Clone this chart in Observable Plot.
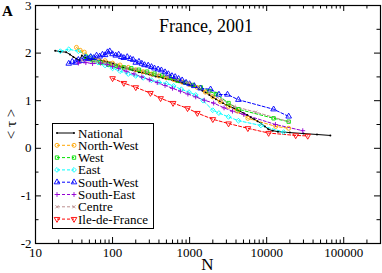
<!DOCTYPE html>
<html>
<head>
<meta charset="utf-8">
<script src="https://cdn.jsdelivr.net/npm/d3@7"></script>
<script src="https://cdn.jsdelivr.net/npm/@observablehq/plot@0.6"></script>
<style>
  html, body { margin: 0; padding: 0; background: #fff; }
  #chart { position: relative; width: 382px; height: 273px; }
</style>
</head>
<body>
<div id="chart"></div>
<script>
// ---- data: [N, <tau>] ----
const national = [[18,2.05],[21,2.03],[25,2.02],[28,1.97],[31,1.92],[34,1.88],[37,1.85],[40,1.95],[44,1.90],[48,1.88],[53,1.86],[58,1.87],[64,1.84],[70,1.85],[77,1.83],[85,1.82],[93,1.80],[102,1.78],[112,1.75],[124,1.72],[136,1.70],[150,1.68],[165,1.66],[182,1.64],[200,1.62],[220,1.60],[245,1.58],[270,1.57],[300,1.55],[330,1.53],[365,1.51],[400,1.50],[445,1.48],[490,1.46],[540,1.45],[600,1.43],[660,1.41],[730,1.39],[800,1.37],[890,1.35],[980,1.33],[1080,1.31],[1200,1.29],[1330,1.25],[1470,1.21],[1620,1.17],[1800,1.12],[2000,1.07],[2200,1.03],[2450,0.99],[2700,0.95],[3000,0.91],[3300,0.88],[3700,0.85],[4100,0.81],[4500,0.78],[5000,0.74],[5600,0.70],[6200,0.65],[6900,0.61],[7600,0.57],[8500,0.52],[9500,0.46],[10500,0.40],[12000,0.37],[14000,0.35],[20000,0.33],[30000,0.31],[45000,0.29],[67000,0.27]];
const northWest = [[34,2.12],[38,2.06],[43,2.02],[52,1.92],[65,1.86],[80,1.84],[100,1.79],[125,1.75],[160,1.70],[200,1.65],[250,1.61],[320,1.56],[400,1.52],[500,1.48],[630,1.44],[800,1.39],[1000,1.34],[1250,1.28],[1600,1.18],[2000,1.08],[2500,0.98],[3200,0.88],[4200,0.78],[5700,0.63],[13100,0.46],[19300,0.42]];
const west = [[45,1.92],[55,1.85],[70,1.80],[88,1.76],[110,1.73],[140,1.70],[175,1.68],[220,1.65],[280,1.61],[350,1.57],[440,1.53],[550,1.48],[700,1.42],[880,1.38],[1100,1.33],[1400,1.28],[1800,1.20],[2200,1.14],[3200,0.95],[4300,0.82],[12300,0.63],[19300,0.56]];
const east = [[21,2.04],[27,2.08],[36,2.04],[52,1.93],[65,1.80],[80,1.74],[100,1.68],[125,1.62],[160,1.56],[200,1.52],[250,1.48],[320,1.43],[400,1.39],[500,1.36],[620,1.31],[780,1.24],[980,1.18],[1200,1.12],[1500,1.00],[2000,0.80],[2400,0.74],[3200,0.66],[4300,0.58],[8400,0.48],[16600,0.34]];
const southWest = [[27,1.78],[30,1.82],[33,1.80],[36,1.86],[40,1.84],[44,1.90],[48,1.88],[52,1.92],[57,1.90],[62,1.95],[68,1.93],[74,1.97],[80,1.96],[86,2.02],[92,2.04],[100,1.98],[110,1.95],[120,1.97],[130,1.92],[140,1.90],[155,1.92],[170,1.88],[185,1.86],[200,1.80],[220,1.82],[240,1.78],[260,1.75],[290,1.74],[320,1.71],[350,1.68],[390,1.66],[430,1.64],[480,1.60],[530,1.56],[590,1.52],[650,1.50],[720,1.46],[800,1.43],[900,1.38],[1000,1.35],[1150,1.31],[1390,1.26],[1870,1.24],[2400,1.13],[3100,1.13],[4300,1.02],[12300,0.82],[19300,0.67]];
const southEast = [[36,1.79],[45,1.80],[55,1.78],[70,1.79],[85,1.76],[100,1.72],[120,1.68],[150,1.62],[190,1.56],[240,1.50],[300,1.44],[380,1.38],[480,1.32],[600,1.26],[760,1.20],[950,1.14],[1200,1.08],[1550,1.01],[2050,0.95],[2800,0.85],[3600,0.78],[5050,0.71],[13000,0.50],[29400,0.37]];
const centre = [[40,1.85],[60,1.82],[80,1.80],[110,1.76],[150,1.70],[200,1.66],[280,1.60],[380,1.55],[520,1.50],[700,1.44],[950,1.38],[1300,1.28],[1800,1.16],[2600,1.02],[3800,0.88],[7200,0.76],[19300,0.56]];
const ileDeFrance = [[100,1.47],[140,1.37],[200,1.28],[310,1.16],[420,1.05],[610,0.95],[940,0.84],[1260,0.74],[2000,0.61],[3200,0.52],[5700,0.42],[10600,0.32],[23800,0.27],[34100,0.26]];

const seriesNames = ["National","North-West","West","East","South-West","South-East","Centre","Ile-de-France"];
const seriesData = [national, northWest, west, east, southWest, southEast, centre, ileDeFrance];
const seriesColors = ["#000000","#FFA500","#00E000","#00FFFF","#0000FF","#9400D3","#BC8F8F","#FF0000"];

const xTicks = [10, 100, 1000, 10000, 100000];
const yTicks = [-2, -1, 0, 1, 2, 3];
const titleText = "France, 2001";
const panelLabel = "A";
const xLabel = "N";
const yLabel = "< τ >";

// ---- symbols ----
const triDown = { draw(ctx, size) { const s = Math.sqrt(size / 0.4330127); const h = s * 0.866; ctx.moveTo(0, h*2/3); ctx.lineTo(s/2, -h/3); ctx.lineTo(-s/2, -h/3); ctx.closePath(); } };
const triUp = { draw(ctx, size) { const s = Math.sqrt(size / 0.4330127); const h = s * 0.866; ctx.moveTo(0, -h*2/3); ctx.lineTo(s/2, h/3); ctx.lineTo(-s/2, h/3); ctx.closePath(); } };
const plusSym = { draw(ctx, size) { const r = Math.sqrt(size / Math.PI) * 1.1; ctx.moveTo(-r,0); ctx.lineTo(r,0); ctx.moveTo(0,-r); ctx.lineTo(0,r); } };
const timesSym = { draw(ctx, size) { const r = Math.sqrt(size / Math.PI) * 0.8; ctx.moveTo(-r,-r); ctx.lineTo(r,r); ctx.moveTo(-r,r); ctx.lineTo(r,-r); } };
const diamondSym = { draw(ctx, size) { const r = Math.sqrt(size / Math.PI) * 1.2; ctx.moveTo(0,-r); ctx.lineTo(r,0); ctx.lineTo(0,r); ctx.lineTo(-r,0); ctx.closePath(); } };
const seriesSymbols = ["circle", "circle", "square", diamondSym, triUp, plusSym, timesSym, triDown];
const seriesR = [1, 2.0, 1.9, 2.0, 2.1, 2.2, 1.9, 2.1];

const rows = seriesData.flatMap((arr, i) => arr.map(([n, t]) => ({ series: seriesNames[i], i, n, t })));

const W = 382, H = 273, mL = 35, mR = 2, mT = 5, mB = 30;
const innerW = W - mL - mR, innerH = H - mT - mB;

const xMinor = [];
for (let dec = 10; dec < 3e5; dec *= 10) for (let k = 2; k <= 9; k++) if (dec * k < 3e5) xMinor.push(dec * k);
const yMinor = [-1.5, -0.5, 0.5, 1.5, 2.5];

const serif = "'Liberation Serif', 'DejaVu Serif', serif";

const marks = [];
seriesData.forEach((arr, i) => {
  const d = rows.filter(r => r.i === i);
  marks.push(Plot.line(d, { x: "n", y: "t", stroke: seriesColors[i], strokeWidth: 1, strokeDasharray: i === 0 ? null : "3,2" }));
});
seriesData.forEach((arr, i) => {
  const d = rows.filter(r => r.i === i);
  const filled = i === 0;
  marks.push(Plot.dot(d, { x: "n", y: "t", r: seriesR[i], symbol: () => seriesSymbols[i],
    stroke: filled ? null : seriesColors[i], fill: filled ? seriesColors[i] : "none", strokeWidth: 0.9 }));
});

const chart = Plot.plot({
  width: W, height: H,
  marginLeft: mL, marginRight: mR, marginTop: mT, marginBottom: mB,
  style: { fontFamily: serif, background: "#fff", overflow: "visible" },
  x: { type: "log", domain: [10, 3e5] },
  y: { domain: [-2, 3] },
  symbol: { type: "identity" },
  marks: [
    ...marks,
    // inward ticks on all four sides
    Plot.tickX(xTicks, { x: d => d, insetTop: innerH - 6, stroke: "#000" }),
    Plot.tickX(xTicks, { x: d => d, insetBottom: innerH - 6, stroke: "#000" }),
    Plot.tickX(xMinor, { x: d => d, insetTop: innerH - 3.5, stroke: "#000" }),
    Plot.tickX(xMinor, { x: d => d, insetBottom: innerH - 3.5, stroke: "#000" }),
    Plot.tickY(yTicks, { y: d => d, insetRight: innerW - 6, stroke: "#000" }),
    Plot.tickY(yTicks, { y: d => d, insetLeft: innerW - 6, stroke: "#000" }),
    Plot.tickY(yMinor, { y: d => d, insetRight: innerW - 3.5, stroke: "#000" }),
    Plot.tickY(yMinor, { y: d => d, insetLeft: innerW - 3.5, stroke: "#000" }),
    Plot.axisX({ ticks: xTicks, tickSize: 0, tickPadding: 4, tickFormat: d => String(d), fontSize: 13, fontFamily: serif, label: null }),
    Plot.axisY({ ticks: yTicks, tickSize: 0, tickPadding: 4, tickFormat: d => String(d), fontSize: 13, fontFamily: serif, label: null }),
    Plot.frame({ stroke: "#000", strokeWidth: 1.2 })
  ]
});
document.getElementById("chart").appendChild(chart);

// ---- annotations & legend (pixel layout) ----
const svg = d3.select(chart);
svg.style("font-family", serif);
svg.selectAll("text").attr("font-family", serif).style("font-family", serif);
const fg = svg.append("g").attr("font-family", serif).attr("fill", "#000");
fg.append("text").attr("x", 206).attr("y", 32).attr("text-anchor", "middle").attr("font-size", 18).text(titleText);
fg.append("text").attr("x", 2).attr("y", 16).attr("text-anchor", "start").attr("font-size", 15).attr("font-weight", "bold").text(panelLabel);
fg.append("text").attr("x", mL + innerW / 2).attr("y", 270).attr("text-anchor", "middle").attr("font-size", 17).text(xLabel);
fg.append("text").attr("transform", "translate(16,124) rotate(-90)").attr("text-anchor", "middle").attr("font-size", 15).text(yLabel);

const lg = svg.append("g").attr("font-family", serif);
lg.append("rect").attr("x", 52.5).attr("y", 123.5).attr("width", 101).attr("height", 105)
  .attr("fill", "#fff").attr("stroke", "#000").attr("stroke-width", 1);
seriesNames.forEach((name, i) => {
  const y = 133 + i * 12.3;
  lg.append("line").attr("x1", 57).attr("x2", 74).attr("y1", y).attr("y2", y)
    .attr("stroke", seriesColors[i]).attr("stroke-width", 1)
    .attr("stroke-dasharray", i === 0 ? null : "3,2");
  const sym = typeof seriesSymbols[i] === "string"
    ? (seriesSymbols[i] === "circle" ? d3.symbolCircle : d3.symbolSquare)
    : seriesSymbols[i];
  const size = Math.PI * seriesR[i] * seriesR[i];
  [57, 74].forEach(x => {
    lg.append("path").attr("d", d3.symbol(sym, size)())
      .attr("transform", `translate(${x},${y})`)
      .attr("fill", i === 0 ? seriesColors[i] : "none")
      .attr("stroke", i === 0 ? "none" : seriesColors[i]).attr("stroke-width", 0.9);
  });
  lg.append("text").attr("x", 78).attr("y", y + 4.5).attr("text-anchor", "start").attr("font-size", 13).attr("fill", "#000").text(name);
});
</script>
</body>
</html>
